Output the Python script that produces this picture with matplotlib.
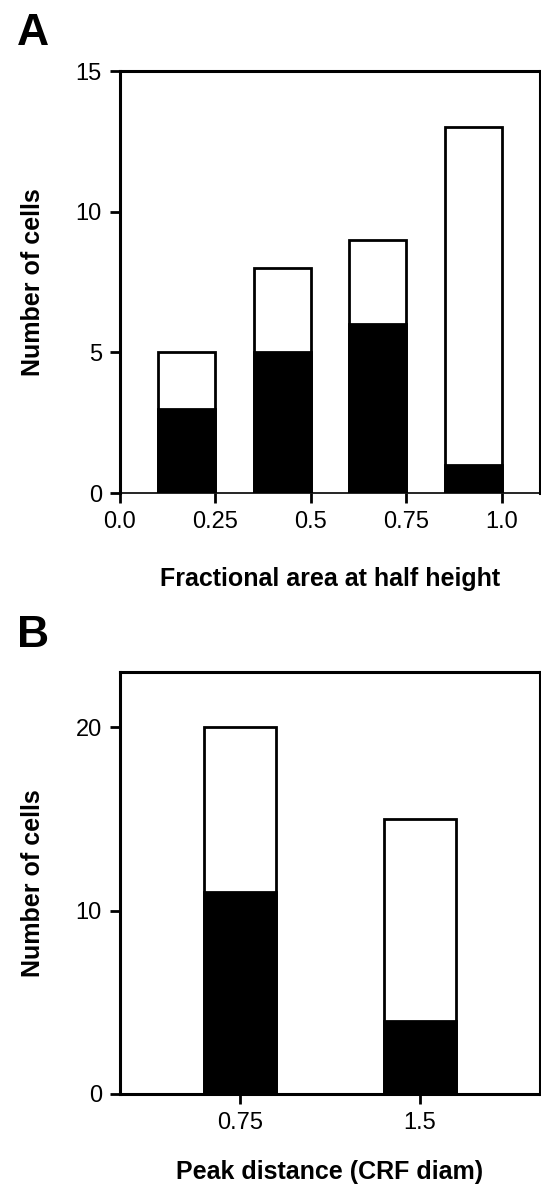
import matplotlib
matplotlib.use("Agg")
import matplotlib.pyplot as plt

plt.rcParams['font.family'] = ['Liberation Sans', 'DejaVu Sans']

# panel A: fractional area at half height
a_right_edges = [0.25, 0.5, 0.75, 1.0]
a_total = [5, 8, 9, 13]
a_black = [3, 5, 6, 1]
a_ticks = [0.0, 0.25, 0.5, 0.75, 1.0]
a_ticklabels = ["0.0", "0.25", "0.5", "0.75", "1.0"]

# panel B: peak distance
b_centers = [0.75, 1.5]
b_total = [20, 15]
b_black = [11, 4]
b_ticklabels = ["0.75", "1.5"]

W, H = 541, 1185
fig = plt.figure(figsize=(W / 100, H / 100), dpi=100)

def px_axes(left, top, right, bottom):
    return fig.add_axes([left / W, 1 - bottom / H, (right - left) / W, (bottom - top) / H])

def style(ax):
    for s in ax.spines.values():
        s.set_linewidth(2.2)
    ax.tick_params(direction='out', length=7, width=2, labelsize=17, pad=6)

axA = px_axes(120, 71, 540, 493)
axA.bar(a_right_edges, a_total, width=-0.15, align='edge', color='white',
        edgecolor='black', linewidth=2, zorder=2)
axA.bar(a_right_edges, a_black, width=-0.15, align='edge', color='black',
        edgecolor='black', linewidth=2, zorder=3)
axA.set_xlim(0, 1.1)
axA.set_ylim(0, 15)
axA.set_xticks(a_ticks)
axA.set_xticklabels(a_ticklabels)
axA.set_yticks([0, 5, 10, 15])
style(axA)
axA.spines['bottom'].set_linewidth(1.2)

axB = px_axes(120, 672, 540, 1094)
axB.bar(b_centers, b_total, width=0.3, color='white', edgecolor='black',
        linewidth=2, zorder=2)
axB.bar(b_centers, b_black, width=0.3, color='black', edgecolor='black',
        linewidth=2, zorder=3)
axB.set_xlim(0.25, 2.0)
axB.set_ylim(0, 23)
axB.set_xticks(b_centers)
axB.set_xticklabels(b_ticklabels)
axB.set_yticks([0, 10, 20])
style(axB)

# axis titles and panel letters
lab = dict(fontsize=18, fontweight='bold')
fig.text(33 / W, 1 - 282 / H, "Number of cells", rotation=90, ha='center', va='center', **lab)
fig.text(33 / W, 1 - 883 / H, "Number of cells", rotation=90, ha='center', va='center', **lab)
fig.text(330 / W, 1 - 586 / H, "Fractional area at half height", ha='center', va='baseline', **lab)
fig.text(330 / W, 1 - 1179 / H, "Peak distance (CRF diam)", ha='center', va='baseline', **lab)
fig.text(17 / W, 1 - 45 / H, "A", fontsize=32, fontweight='bold', va='baseline')
fig.text(17 / W, 1 - 647 / H, "B", fontsize=32, fontweight='bold', va='baseline')

fig.savefig("out.png", dpi=100)
